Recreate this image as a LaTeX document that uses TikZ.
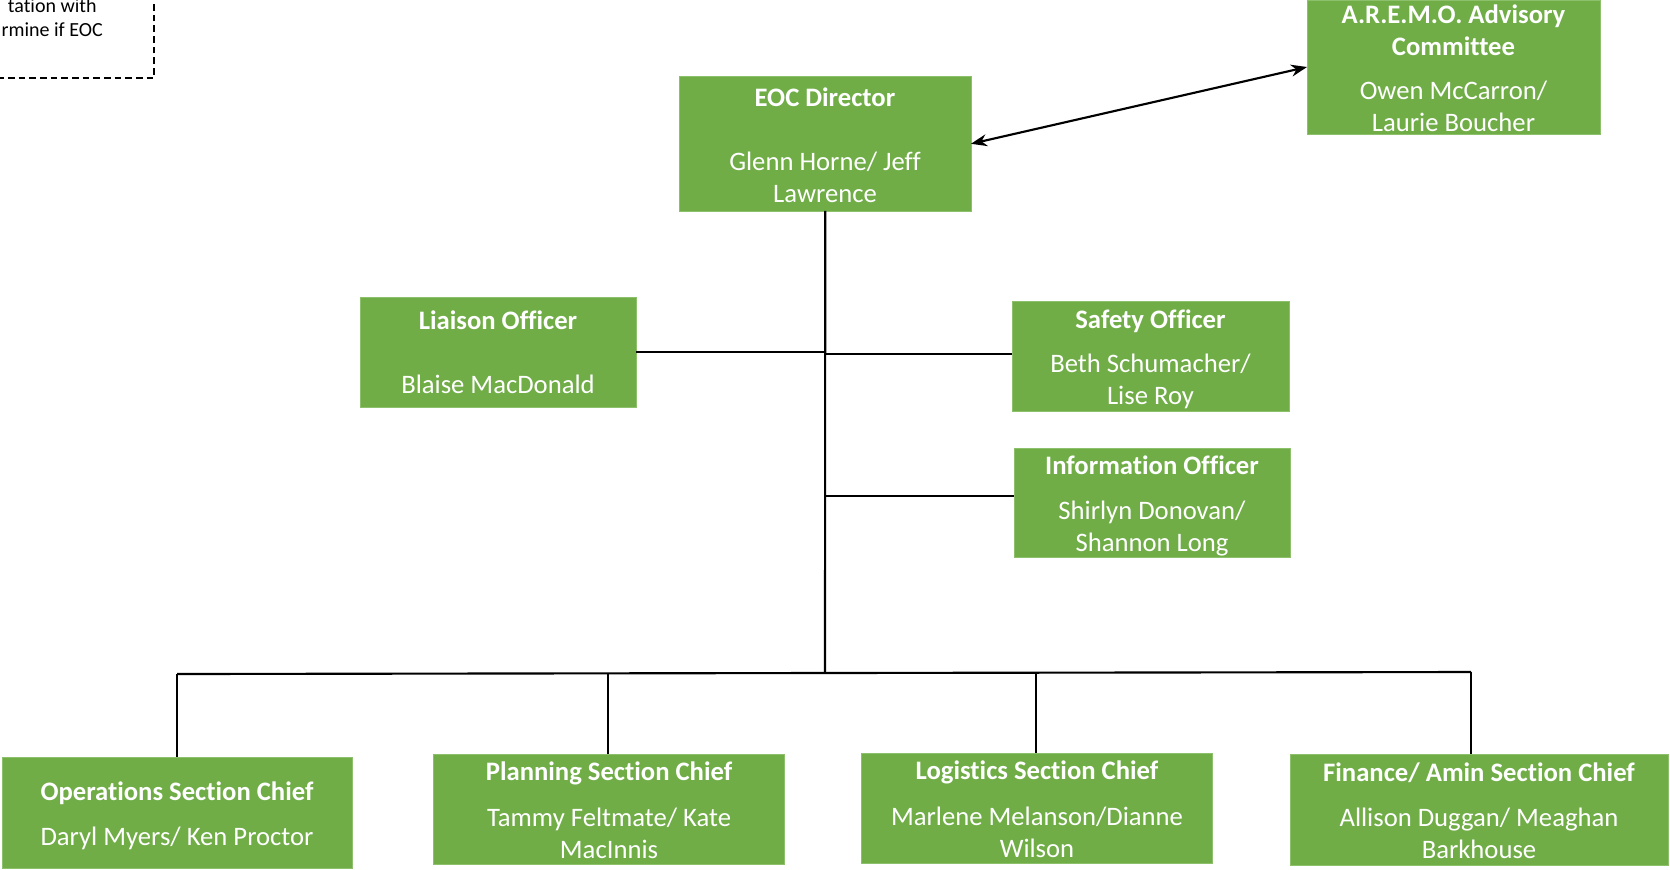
\documentclass[tikz,border=0pt]{standalone}
\usepackage{fontspec}
\setmainfont{Carlito}[Ligatures=NoCommon]
\usetikzlibrary{arrows.meta,calc}
\definecolor{boxgreen}{HTML}{70AD47}
\definecolor{boxedge}{HTML}{8CC06A}
\begin{document}
\begin{tikzpicture}[x=0.75pt,y=-0.75pt,
  box/.style={rectangle,fill=boxgreen,draw=boxedge,line width=0.6pt,inner sep=0pt,outer sep=0pt},
  ttl/.style={anchor=base,text=white,font=\fontsize{20pt}{24pt}\selectfont\bfseries,inner sep=0pt},
  nm/.style={anchor=base,text=white,font=\fontsize{20pt}{24pt}\selectfont,inner sep=0pt},
  note/.style={anchor=base east,text=black,font=\fontsize{15pt}{18pt}\selectfont,inner sep=0pt},
  conn/.style={line width=1.6pt,black},
  dbl/.style={line width=1.6pt,black,{Stealth[length=12pt,width=9pt]}-{Stealth[length=12pt,width=9pt]}}]
\useasboundingbox (0,0) rectangle (1670,869);

% dashed note box (cut off at top-left)
\draw[black,line width=1.2pt,dash pattern=on 5pt off 3pt] (-300,-30) rectangle (154,78);
\node[note] (note1) at (97,12) {tation with};
\node[note] (note2) at (103,36.5) {rmine if EOC};

% boxes
\node[box,minimum width=218.6pt,minimum height=100.7pt] (eoc) at (825.25,143.8) {};
\node[box,minimum width=219.75pt,minimum height=100.5pt] (aremo) at (1453.5,67) {};
\node[box,minimum width=207pt,minimum height=82.5pt] (liaison) at (498,352) {};
\node[box,minimum width=207.75pt,minimum height=82.5pt] (safety) at (1150.5,356) {};
\node[box,minimum width=207pt,minimum height=81.75pt] (info) at (1152,502.5) {};
\node[box,minimum width=262.9pt,minimum height=83.25pt] (ops) at (177.25,812.5) {};
\node[box,minimum width=262.9pt,minimum height=82.5pt] (plan) at (608.75,809) {};
\node[box,minimum width=262.8pt,minimum height=82.5pt] (log) at (1036.8,808) {};
\node[box,minimum width=283.5pt,minimum height=83.25pt] (fin) at (1479,809.5) {};

% texts
\node[ttl] (eoc1) at (825,106) {EOC Director};
\node[nm] (eoc2) at (825,170) {Glenn Horne/ Jeff};
\node[nm] (eoc3) at (825,202) {Lawrence};

\node[ttl] (ar1) at (1453.5,23) {A.R.E.M.O. Advisory};
\node[ttl] (ar2) at (1453.5,55) {Committee};
\node[nm] (ar3) at (1453.5,99.5) {Owen McCarron/};
\node[nm] (ar4) at (1453.5,131.5) {Laurie Boucher};

\node[ttl] (li1) at (498,329.5) {Liaison Officer};
\node[nm] (li2) at (498,393.5) {Blaise MacDonald};

\node[ttl] (sa1) at (1150.5,328.5) {Safety Officer};
\node[nm] (sa2) at (1150.5,372) {Beth Schumacher/};
\node[nm] (sa3) at (1150.5,404) {Lise Roy};

\node[ttl] (in1) at (1152,474) {Information Officer};
\node[nm] (in2) at (1152,519) {Shirlyn Donovan/};
\node[nm] (in3) at (1152,551) {Shannon Long};

\node[ttl] (op1) at (177,800) {Operations Section Chief};
\node[nm] (op2) at (177,845) {Daryl Myers/ Ken Proctor};

\node[ttl] (pl1) at (609,780) {Planning Section Chief};
\node[nm] (pl2) at (609,826) {Tammy Feltmate/ Kate};
\node[nm] (pl3) at (609,858) {MacInnis};

\node[ttl] (lo1) at (1037,779) {Logistics Section Chief};
\node[nm] (lo2) at (1037,825) {Marlene Melanson/Dianne};
\node[nm] (lo3) at (1037,857) {Wilson};

\node[ttl] (fi1) at (1479,781) {Finance/ Amin Section Chief};
\node[nm] (fi2) at (1479,826) {Allison Duggan/ Meaghan};
\node[nm] (fi3) at (1479,858) {Barkhouse};

% connectors
\coordinate (tl) at (825,352);
\coordinate (ts) at (825,354);
\coordinate (ti) at (825,496);
\coordinate (bus) at (825,673);
\coordinate (bl) at (177,674);
\coordinate (bp) at (608,673.5);
\coordinate (bg) at (1036,672.5);
\coordinate (br) at (1471,672);

\draw[dbl] (eoc.east) -- (aremo.west);
\draw[conn] (eoc.south) -- (bus);
\draw[conn] (liaison.east |- tl) -- (tl);
\draw[conn] (ts) -- (ts -| safety.west);
\draw[conn] (ti) -- (ti -| info.west);
\draw[conn] (bl) -- (br);
\draw[conn] (bl) -- (bl |- ops.north);
\draw[conn] (bp) -- (bp |- plan.north);
\draw[conn] (bg) -- (bg |- log.north);
\draw[conn] (br) -- (br |- fin.north);
\end{tikzpicture}
\end{document}
